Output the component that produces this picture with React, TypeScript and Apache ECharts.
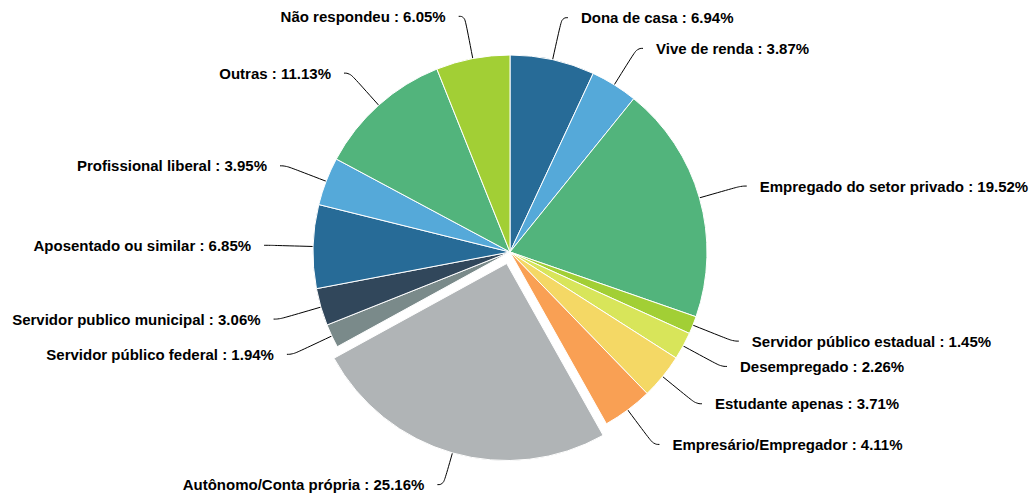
import React, { useEffect, useRef } from "react";
import * as echarts from "echarts";

const categories = [
  "Dona de casa",
  "Vive de renda",
  "Empregado do setor privado",
  "Servidor público estadual",
  "Desempregado",
  "Estudante apenas",
  "Empresário/Empregador",
  "Autônomo/Conta própria",
  "Servidor público federal",
  "Servidor publico municipal",
  "Aposentado ou similar",
  "Profissional liberal",
  "Outras",
  "Não respondeu",
];
const values = [6.94, 3.87, 19.52, 1.45, 2.26, 3.71, 4.11, 25.16, 1.94, 3.06, 6.85, 3.95, 11.13, 6.05];
const palette = [
  "#276b97", "#55a9d9", "#52b47c", "#a2cf35", "#d8e55a",
  "#f4d865", "#f9a054", "#b0b4b6", "#7a8a8a", "#31475b",
];
const explodedCategory = "Autônomo/Conta própria";

export default function App() {
  const ref = useRef<HTMLDivElement>(null);
  useEffect(() => {
    document.body.style.margin = "0";
    const chart = echarts.init(ref.current!, undefined, { renderer: "svg" });
    chart.setOption({
      animation: false,
      color: palette,
      series: [
        {
          type: "pie",
          center: [510, 252],
          radius: 197,
          startAngle: 90,
          clockwise: true,
          selectedMode: "single",
          selectedOffset: 12,
          avoidLabelOverlap: true,
          itemStyle: { borderColor: "#ffffff", borderWidth: 1 },
          label: {
            show: true,
            position: "outside",
            overflow: "none",
            formatter: (p: any) => `${p.name} : ${p.value.toFixed(2)}%`,
            color: "#000000",
            fontFamily: "Liberation Sans, Arial, sans-serif",
            fontWeight: "bold",
            fontSize: 15,
            distanceToLabelLine: 13,
          },
          labelLine: {
            show: true,
            length: 43,
            length2: 6,
            smooth: 0.5,
            lineStyle: { color: "#000000", width: 1 },
          },
          emphasis: { disabled: true },
          data: categories.map((c, i) => ({
            name: c,
            value: values[i],
            selected: c === explodedCategory,
            ...(c === explodedCategory ? { labelLine: { length: 33 } } : {}),
          })),
        },
      ],
    });
    return () => chart.dispose();
  }, []);
  return <div ref={ref} style={{ width: 1033, height: 493 }} />;
}
